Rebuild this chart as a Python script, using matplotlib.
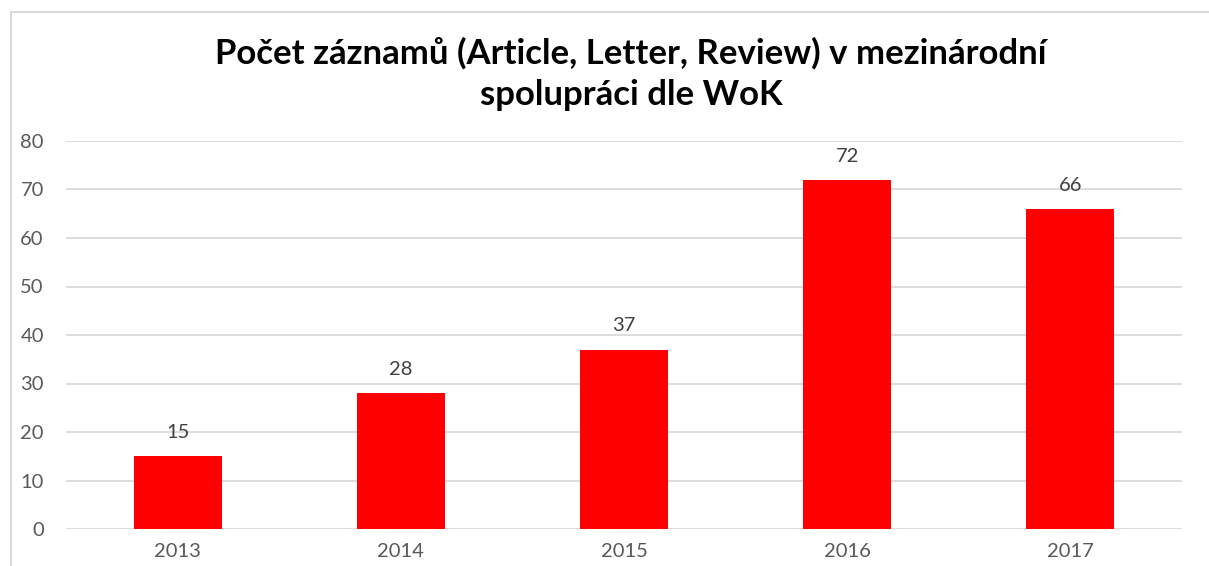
import matplotlib
matplotlib.use("Agg")
import matplotlib.pyplot as plt
from matplotlib.patches import Rectangle

# data
roky = ["2013", "2014", "2015", "2016", "2017"]
pocty = [15, 28, 37, 72, 66]
y_ticks = [0, 10, 20, 30, 40, 50, 60, 70, 80]

plt.rcParams['font.family'] = ['Lato', 'DejaVu Sans']

fig = plt.figure(figsize=(12.09, 5.66), dpi=100)
ax = fig.add_axes([66 / 1209, 1 - 529 / 566, 1116 / 1209, 388 / 566])

# ramecek grafu (oriznuty vpravo a dole)
fig.patches.append(Rectangle((11 / 1209, -0.1), 1.2, 1.1 - 12 / 566,
                             transform=fig.transFigure, fill=False,
                             edgecolor="#d9d9d9", linewidth=1.5))

x = range(len(roky))
bars = ax.bar(x, pocty, width=0.395, color="#ff0000", zorder=3)
for b, v in zip(bars, pocty):
    ax.annotate(str(v), (b.get_x() + b.get_width() / 2, v), xytext=(0, 11),
                textcoords="offset points", ha="center", va="bottom",
                fontsize=14.5, color="#404040")

ax.set_xlim(-0.5, len(roky) - 0.5)
ax.set_ylim(0, 80)
ax.set_yticks(y_ticks)
ax.set_xticks(list(x))
ax.set_xticklabels(roky)
ax.grid(axis="y", color="#d9d9d9", linewidth=1.3, zorder=0)
for s in ax.spines.values():
    s.set_visible(False)
ax.tick_params(length=0, labelsize=14.5, colors="#595959")
ax.tick_params(axis="y", pad=16)
ax.tick_params(axis="x", pad=10)

fig.text(0.522, 1 - 74 / 566, "Počet záznamů (Article, Letter, Review) v mezinárodní\nspolupráci dle WoK",
         ha="center", va="center", fontsize=25, fontweight="bold", color="black",
         linespacing=1.4)

fig.savefig("out.png", dpi=100)
